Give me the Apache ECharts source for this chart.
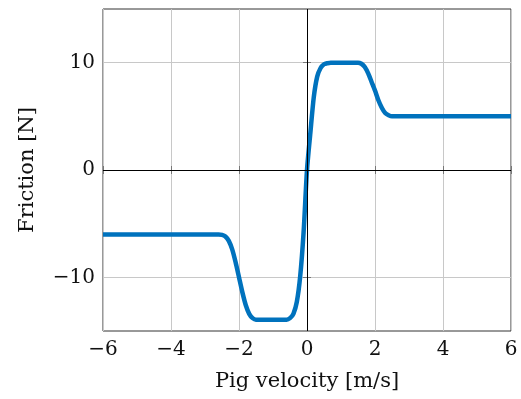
<!DOCTYPE html>
<html>
<head>
<meta charset="utf-8">
<script src="https://cdn.jsdelivr.net/npm/echarts@6/dist/echarts.min.js"></script>
<style>
  html, body { margin: 0; padding: 0; background: #fff; }
  #chart { width: 521px; height: 399px; }
</style>
</head>
<body>
<div id="chart"></div>
<script>
// friction curve
const velocity = [-6, -2.6, -2.5, -2.4, -2.3, -2.2, -2.1, -2.0, -1.9, -1.8, -1.7, -1.6, -1.5,
  -0.6, -0.5, -0.4, -0.3, -0.2, -0.1, 0, 0.1, 0.2, 0.3, 0.4, 0.5, 0.6, 0.7,
  1.5, 1.6, 1.7, 1.8, 1.9, 2.0, 2.1, 2.2, 2.3, 2.4, 2.5, 6]
const friction = [-6, -6, -6.05, -6.2, -6.6, -7.4, -8.6, -10, -11.4, -12.6, -13.4, -13.8, -13.95,
  -13.95, -13.8, -13.4, -12.3, -9.9, -5.8, 0, 3.5, 6.8, 8.7, 9.5, 9.85, 9.95, 10,
  10, 9.9, 9.6, 9.0, 8.2, 7.4, 6.5, 5.8, 5.3, 5.1, 5.0, 5.0]
const xTicks = [-6, -4, -2, 0, 2, 4, 6]
const yTicks = [-10, 0, 10]

const font = 'DejaVu Serif'
const fmt = (v) => (v < 0 ? '\u2212' + Math.abs(v) : String(v))

const tick = { show: true, inside: true, length: 4, lineStyle: { color: '#777', width: 1 } }
const split = { show: true, lineStyle: { color: '#c8c8c8', width: 1 } }

const chart = echarts.init(document.getElementById('chart'), null, { renderer: 'canvas' })
chart.setOption({
  animation: false,
  grid: {
    left: 103, right: 10, top: 9, bottom: 68,
    outerBoundsMode: 'none',
    show: true, borderColor: '#333', borderWidth: 1, backgroundColor: 'transparent'
  },
  xAxis: [{
    type: 'value', min: -6, max: 6, position: 'bottom',
    axisLine: { show: false },
    axisTick: { ...tick, customValues: xTicks },
    splitLine: split,
    axisLabel: { customValues: xTicks, formatter: fmt, color: '#111', fontFamily: font, fontSize: 20, margin: 9 },
    name: 'Pig velocity [m/s]', nameLocation: 'middle', nameGap: 40,
    nameTextStyle: { color: '#111', fontFamily: font, fontSize: 21 }
  }, {
    type: 'value', min: -6, max: 6, position: 'top',
    axisLine: { show: false },
    axisTick: { ...tick, customValues: xTicks },
    splitLine: { show: false }, axisLabel: { show: false }
  }],
  yAxis: [{
    type: 'value', min: -15, max: 15, position: 'left',
    axisLine: { show: false },
    axisTick: { ...tick, customValues: yTicks },
    splitLine: split,
    axisLabel: { customValues: yTicks, formatter: fmt, color: '#111', fontFamily: font, fontSize: 20, margin: 8 },
    name: 'Friction [N]', nameLocation: 'middle', nameGap: 65,
    nameTextStyle: { color: '#111', fontFamily: font, fontSize: 21 }
  }, {
    type: 'value', min: -15, max: 15, position: 'right',
    axisLine: { show: false },
    axisTick: { ...tick, customValues: yTicks },
    splitLine: { show: false }, axisLabel: { show: false }
  }],
  series: [{
    type: 'line',
    data: velocity.map((v, i) => [v, friction[i]]),
    showSymbol: false,
    smooth: 0.25,
    lineStyle: { color: '#0072bd', width: 4.5, join: 'round', cap: 'butt' },
    markLine: {
      silent: true, symbol: 'none', label: { show: false },
      lineStyle: { color: '#000', width: 1, type: 'solid' },
      data: [{ xAxis: 0 }, { yAxis: 0 }]
    },
    z: 3
  }]
})
</script>
</body>
</html>
